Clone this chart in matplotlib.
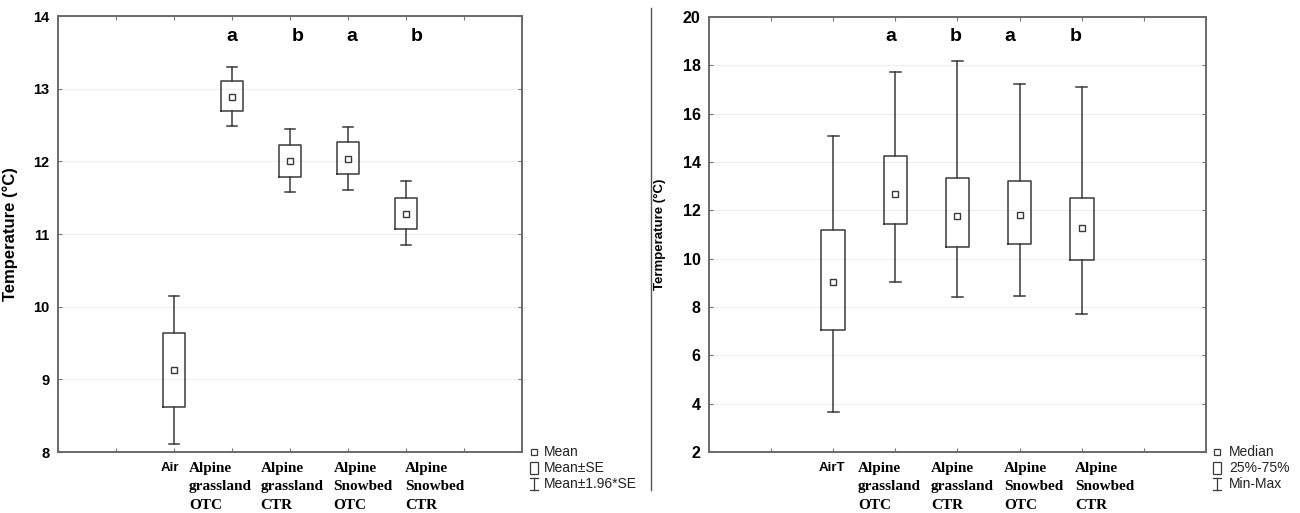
import matplotlib
matplotlib.use('Agg')
import matplotlib.pyplot as plt
from matplotlib.patches import Rectangle
from matplotlib.lines import Line2D

# left panel: mean, SE, 1.96*SE
groups = ['Air', 'Alpine\ngrassland\nOTC', 'Alpine\ngrassland\nCTR', 'Alpine\nSnowbed\nOTC', 'Alpine\nSnowbed\nCTR']
mean_vals = [9.13, 12.89, 12.01, 12.03, 11.28]
se_lo = [8.62, 12.69, 11.79, 11.83, 11.07]
se_hi = [9.64, 13.10, 12.23, 12.26, 11.50]
ci_lo = [8.11, 12.48, 11.58, 11.60, 10.85]
ci_hi = [10.15, 13.30, 12.45, 12.47, 11.73]
left_letters = ['a', 'b', 'a', 'b']

# right panel: median, quartiles, min-max
groups_r = ['AirT', 'Alpine\ngrassland\nOTC', 'Alpine\ngrassland\nCTR', 'Alpine\nSnowbed\nOTC', 'Alpine\nSnowbed\nCTR']
median_vals = [9.03, 12.68, 11.75, 11.81, 11.26]
q1_vals = [7.06, 11.43, 10.48, 10.61, 9.93]
q3_vals = [11.17, 14.26, 13.32, 13.21, 12.52]
min_vals = [3.64, 9.03, 8.40, 8.46, 7.71]
max_vals = [15.06, 17.71, 18.18, 17.23, 17.10]
right_letters = ['a', 'b', 'a', 'b']

W, H = 1300, 513
SANS = 'Liberation Sans'
SERIF = 'Liberation Serif'
EDGE = '#3a3a3a'

fig = plt.figure(figsize=(W / 100, H / 100), dpi=100)


def fpx(x, y):
    return x / W, 1 - y / H


def axes_px(x0, y0, x1, y1):
    return [x0 / W, 1 - y1 / H, (x1 - x0) / W, (y1 - y0) / H]


def draw_boxes(ax, stats):
    ax.bxp(stats, positions=range(1, len(stats) + 1), widths=0.38, capwidths=0.17,
           showmeans=True, showfliers=False, patch_artist=False,
           boxprops=dict(color=EDGE, linewidth=1.1),
           whiskerprops=dict(color=EDGE, linewidth=1.1),
           capprops=dict(color=EDGE, linewidth=1.1),
           medianprops=dict(linewidth=0),
           meanprops=dict(marker='s', markersize=5, markerfacecolor='white',
                          markeredgecolor=EDGE, markeredgewidth=1.0))


def style_axes(ax, tick_size):
    ax.set_xlim(-1, 7)
    ax.set_xticks(range(-1, 8))
    ax.set_xticklabels([])
    ax.tick_params(direction='in', length=3, width=0.8, color='#777777',
                   top=True, right=True)
    ax.tick_params(axis='x', length=3, pad=2)
    for lab in ax.get_yticklabels():
        lab.set_fontfamily(SANS)
        lab.set_fontweight('bold')
        lab.set_fontsize(tick_size)
    ax.tick_params(axis='y', pad=6)
    for sp in ax.spines.values():
        sp.set_color('#6a6a6a')
        sp.set_linewidth(1.4)
    ax.yaxis.grid(True, color='#eeeeee', linewidth=0.8)
    ax.set_axisbelow(True)


def group_labels(ax, first, rest, x_first, x_rest):
    tr = ax.get_xaxis_transform()
    ax.text(x_first, -0.024, first, transform=tr, ha='center', va='top',
            fontsize=9.5, fontweight='bold', fontfamily=SANS)
    for xpos, lab in zip(x_rest, rest):
        ax.text(xpos, -0.022, lab, transform=tr, ha='left', va='top', fontsize=11,
                fontweight='bold', fontfamily=SERIF, linespacing=1.55)


# ---- left panel ----
ax1 = fig.add_axes(axes_px(58, 16, 522, 452))
stats1 = []
for m, lo, hi, clo, chi in zip(mean_vals, se_lo, se_hi, ci_lo, ci_hi):
    stats1.append(dict(med=m, mean=m, q1=lo, q3=hi, whislo=clo, whishi=chi))
draw_boxes(ax1, stats1)
ax1.set_ylim(8, 14)
ax1.set_yticks(range(8, 15))
style_axes(ax1, 10.5)
ax1.set_ylabel('Temperature (°C)', fontfamily=SANS, fontweight='bold', fontsize=12)
ax1.yaxis.set_label_coords(-0.086, 0.5)

for xpos, let in zip([2.0, 3.13, 4.06, 5.18], left_letters):
    ax1.text(xpos, 13.72, let, ha='center', va='center', fontsize=14,
             fontweight='bold', fontfamily=SANS)

group_labels(ax1, groups[0], groups[1:], 0.93, [1.26, 2.49, 3.75, 4.98])

# ---- right panel ----
ax2 = fig.add_axes(axes_px(709, 17, 1206, 452))
stats2 = []
for md, q1, q3, lo, hi in zip(median_vals, q1_vals, q3_vals, min_vals, max_vals):
    stats2.append(dict(med=md, mean=md, q1=q1, q3=q3, whislo=lo, whishi=hi))
draw_boxes(ax2, stats2)
ax2.set_ylim(2, 20)
ax2.set_yticks(range(2, 21, 2))
style_axes(ax2, 11.5)
ax2.set_ylabel('Termperature (°C)', fontfamily=SANS, fontweight='bold', fontsize=9.5)
ax2.yaxis.set_label_coords(-0.087, 0.5)

for xpos, let in zip([1.92, 2.97, 3.84, 4.90], right_letters):
    ax2.text(xpos, 19.21, let, ha='center', va='center', fontsize=14,
             fontweight='bold', fontfamily=SANS)

group_labels(ax2, groups_r[0], groups_r[1:], 0.98, [1.40, 2.57, 3.75, 4.89])


# ---- hand-drawn legends ----
def legend(xm, xt, labels):
    rows = [452, 468, 484]
    tr = fig.transFigure
    # small square
    fig.add_artist(Rectangle(fpx(xm - 3, rows[0] + 3), 6 / W, 6 / H, transform=tr,
                             fill=False, ec=EDGE, lw=0.9))
    # box
    fig.add_artist(Rectangle(fpx(xm - 4, rows[1] + 6), 8 / W, 12 / H, transform=tr,
                             fill=False, ec=EDGE, lw=0.9))
    # whisker
    x0, y0 = fpx(xm, rows[2] - 6)
    x1, y1 = fpx(xm, rows[2] + 6)
    fig.add_artist(Line2D([x0, x1], [y0, y1], transform=tr, color=EDGE, lw=0.9))
    for yy in (rows[2] - 6, rows[2] + 6):
        a, b = fpx(xm - 4, yy)
        c, d = fpx(xm + 4, yy)
        fig.add_artist(Line2D([a, c], [b, d], transform=tr, color=EDGE, lw=0.9))
    for r, lab in zip(rows, labels):
        tx, ty = fpx(xt, r)
        fig.text(tx, ty, lab, ha='left', va='center', fontsize=10, fontfamily=SANS,
                 color='#222222')


legend(534, 544, ['Mean', 'Mean±SE', 'Mean±1.96*SE'])
legend(1217, 1229, ['Median', '25%-75%', 'Min-Max'])

# separator between the two panels
sx0, sy0 = fpx(651, 8)
sx1, sy1 = fpx(651, 490)
fig.add_artist(Line2D([sx0, sx1], [sy0, sy1], transform=fig.transFigure,
                      color='#555555', lw=1.0))

plt.savefig('out.png', dpi=100)
plt.close()
